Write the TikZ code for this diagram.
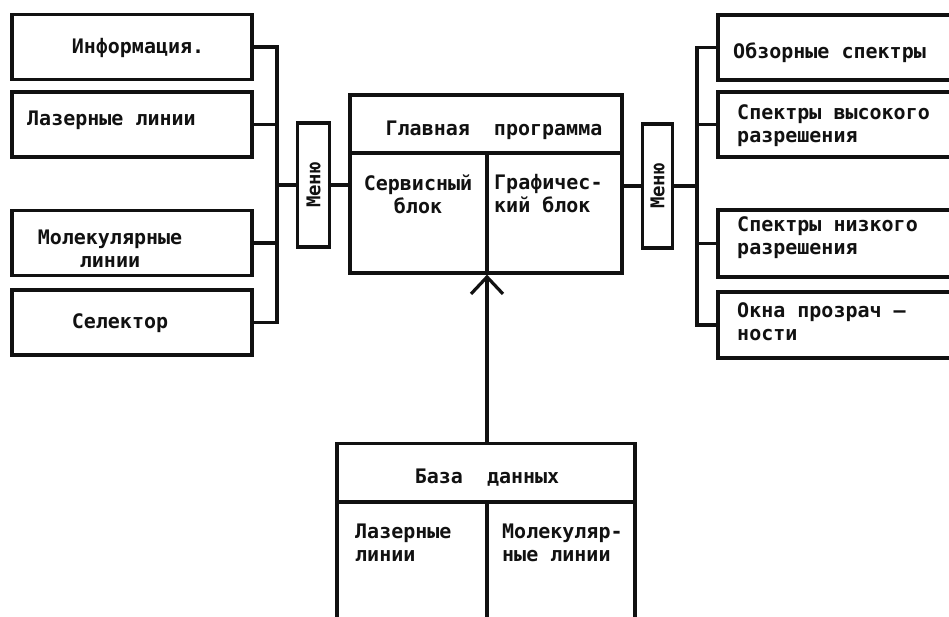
\documentclass[tikz,border=0pt]{standalone}
\usepackage{fontspec}
\newfontfamily\plotfont{DejaVu Sans Mono}
\usetikzlibrary{arrows.meta}
\definecolor{ink}{HTML}{111111}

\tikzset{
  wire/.style={draw=ink,line width=3.2pt},
  box/.style={wire,minimum width=240pt,minimum height=65pt,inner sep=0pt},
  menubox/.style={wire,minimum width=32pt,minimum height=124pt,inner sep=0pt,
    font=\plotfont\bfseries\fontsize{19}{19}\selectfont,text=ink},
  txt/.style={font=\plotfont\bfseries\fontsize{20}{23}\selectfont,text=ink,
    inner sep=0pt,align=left}
}

\begin{document}
\begin{tikzpicture}[x=1pt,y=-1pt,line join=miter]
  \useasboundingbox (0,0) rectangle (949,616);
  \clip (0,0) rectangle (949,616);

  % left column
  \node[box] (info) at (132,47) {};
  \node[box] (laser) at (132,124.5) {};
  \node[box] (mol) at (132,243) {};
  \node[box] (sel) at (132,322.5) {};
  \node[txt] (infot) at (138,48) {Информация.};
  \node[txt,anchor=west] (lasert) at (27,120) {Лазерные линии};
  \node[txt,align=center] (molt) at (110,249) {Молекулярные\\линии};
  \node[txt] (selt) at (120,323) {Селектор};

  \coordinate (lbus) at (277,0);
  \draw[wire] (info.east) -| (lbus |- sel.east) -- (sel.east);
  \draw[wire] (laser.east) -- (lbus |- laser.east);
  \draw[wire] (mol.east) -- (lbus |- mol.east);

  \node[menubox] (lmenu) at (313.5,185) {\rotatebox{90}{Меню}};
  \draw[wire] (lbus |- lmenu.west) -- (lmenu.west);

  % main program
  \node[wire,minimum width=272pt,minimum height=178pt] (main) at (486,184) {};
  \draw[wire] (lmenu.east) -- (main.west |- lmenu.east);
  \coordinate (mhead) at (487,153);
  \draw[wire] (main.west |- mhead) -- (main.east |- mhead);
  \draw[wire] (mhead) -- (mhead |- main.south);
  \node[txt] (maint) at (494,130) {Главная\ \ программа};
  \node[txt,align=center] (servt) at (418,194) {Сервисный\\блок};
  \node[txt,anchor=west] (graft) at (494,194) {Графичес-\\кий блок};

  % right column
  \node[menubox,minimum width=30pt] (rmenu) at (657.5,186) {\rotatebox{90}{Меню}};
  \draw[wire] (main.east |- rmenu.west) -- (rmenu.west);
  \coordinate (rbus) at (697,0);
  \node[box,minimum width=244pt] (obz) at (840,47.5) {};
  \node[box,minimum width=244pt] (high) at (840,124.5) {};
  \node[box,minimum width=244pt,minimum height=67pt] (low) at (840,243.5) {};
  \node[box,minimum width=244pt,minimum height=66pt] (okna) at (840,325) {};
  \draw[wire] (rmenu.east) -- (rbus |- rmenu.east);
  \draw[wire] (obz.west) -| (rbus |- okna.west) -- (okna.west);
  \draw[wire] (high.west) -- (rbus |- high.west);
  \draw[wire] (low.west) -- (rbus |- low.west);
  \node[txt,anchor=west] (obzt) at (733,53) {Обзорные спектры};
  \node[txt,anchor=west] (hight) at (737,126) {Спектры высокого\\разрешения};
  \node[txt,anchor=west] (lowt) at (737,238) {Спектры низкого\\ разрешения};
  \node[txt,anchor=west] (oknat) at (737,322) {Окна прозрач –\\ности};

  % data base
  \node[wire,minimum width=298pt,minimum height=200pt,anchor=north] (db) at (486,442) {};
  \coordinate (dbhead) at (487,502);
  \draw[wire] (db.west |- dbhead) -- (db.east |- dbhead);
  \draw[wire] (dbhead) -- (dbhead |- db.south);
  \node[txt] (dbt) at (487,478) {База\ \ данных};
  \node[txt,anchor=west] (dblas) at (355,543) {Лазерные\\линии};
  \node[txt,anchor=west] (dbmol) at (502,543) {Молекуляр-\\ные линии};
  \draw[wire,-{Straight Barb[length=17pt,width=32pt]}] (db.north -| mhead) -- (main.south -| mhead);
\end{tikzpicture}
\end{document}
